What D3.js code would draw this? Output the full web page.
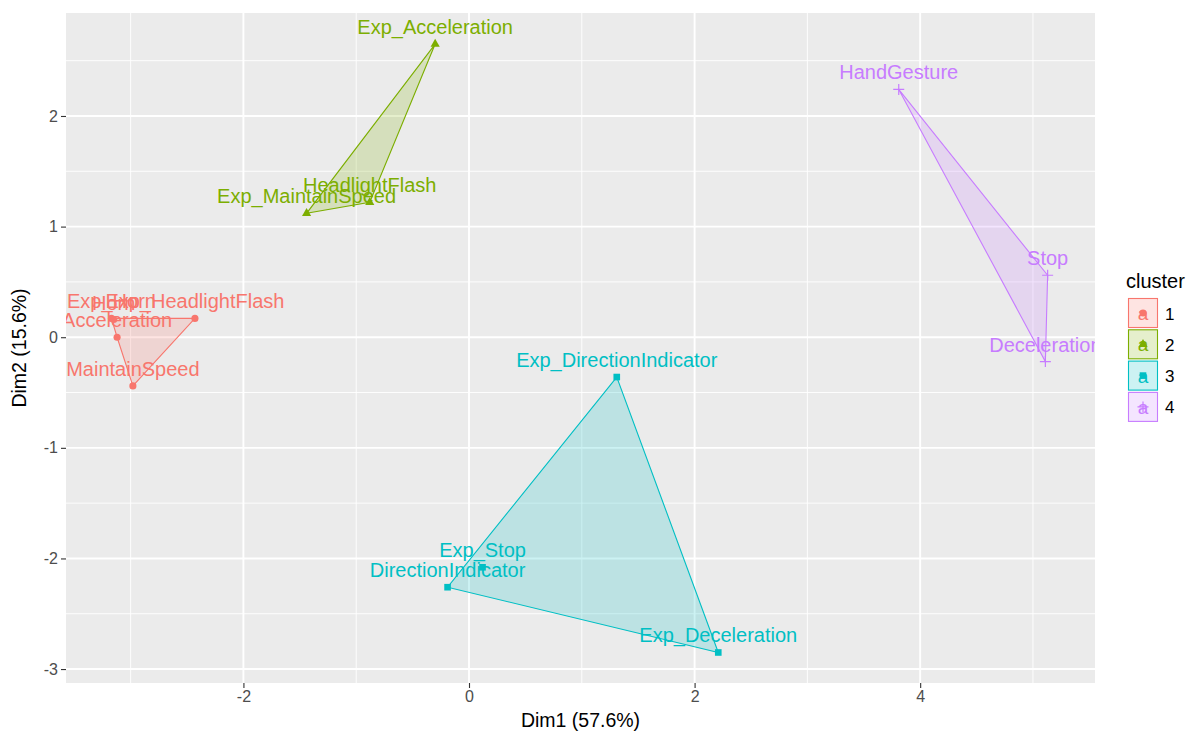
<!DOCTYPE html>
<html lang="en">
<head>
<meta charset="utf-8">
<title>Cluster plot</title>
<script src="https://d3js.org/d3.v7.min.js"></script>
<style>
  body { margin: 0; background: #fff; }
  text { font-family: "Liberation Sans", Arial, sans-serif; }
</style>
</head>
<body>
<script>

// variables and their coordinates on the first two dimensions
var labels = ["Exp_Horn", "Horn", "Exp_HeadlightFlash", "Acceleration", "MaintainSpeed",
              "Exp_Acceleration", "HeadlightFlash", "Exp_MaintainSpeed",
              "Exp_DirectionIndicator", "Exp_Stop", "DirectionIndicator", "Exp_Deceleration",
              "HandGesture", "Stop", "Deceleration"];
var dim1 = [-3.17, -3.15, -2.43, -3.12, -2.98,
            -0.30, -0.88, -1.44,
             1.31,  0.12, -0.19,  2.21,
             3.81,  5.13,  5.11];
var dim2 = [ 0.17,  0.16,  0.17,  0.00, -0.44,
             2.65,  1.22,  1.12,
            -0.36, -2.08, -2.26, -2.85,
             2.24,  0.56, -0.22];
var cluster = [1, 1, 1, 1, 1, 2, 2, 2, 3, 3, 3, 3, 4, 4, 4];

var clusters = [1, 2, 3, 4];
var xTicks = [-2, 0, 2, 4];
var yTicks = [-3, -2, -1, 0, 1, 2];
var xTitle = "Dim1 (57.6%)",
    yTitle = "Dim2 (15.6%)",
    legendTitle = "cluster";

var width = 1197,
    height = 738;
var panel = {left: 66, right: 1095, top: 13, bottom: 683};

var x = d3.scaleLinear().domain([-3.573, 5.55]).range([panel.left, panel.right]);
var y = d3.scaleLinear().domain([-3.126, 2.931]).range([panel.bottom, panel.top]);

var color = d3.scaleOrdinal()
    .domain(clusters)
    .range(["#F8766D", "#7CAE00", "#00BFC4", "#C77CFF"]);
var shape = d3.scaleOrdinal()
    .domain(clusters)
    .range(["circle", "triangle", "square", "plus"]);

var svg = d3.select("body").append("svg")
    .attr("width", width)
    .attr("height", height);

svg.append("defs").append("clipPath")
    .attr("id", "clip")
  .append("rect")
    .attr("x", panel.left)
    .attr("y", panel.top)
    .attr("width", panel.right - panel.left)
    .attr("height", panel.bottom - panel.top);

// panel background + grid
svg.append("rect")
    .attr("x", panel.left)
    .attr("y", panel.top)
    .attr("width", panel.right - panel.left)
    .attr("height", panel.bottom - panel.top)
    .attr("fill", "#EBEBEB");

var grid = svg.append("g");
var xMinor = d3.range(-3, 6, 2), yMinor = d3.range(-2.5, 3, 1);
grid.selectAll(".xmin").data(xMinor).enter().append("line")
    .attr("x1", x).attr("x2", x)
    .attr("y1", panel.top).attr("y2", panel.bottom)
    .attr("stroke", "#fff").attr("stroke-width", 0.9);
grid.selectAll(".ymin").data(yMinor).enter().append("line")
    .attr("y1", y).attr("y2", y)
    .attr("x1", panel.left).attr("x2", panel.right)
    .attr("stroke", "#fff").attr("stroke-width", 0.9);
grid.selectAll(".xmaj").data(xTicks).enter().append("line")
    .attr("x1", x).attr("x2", x)
    .attr("y1", panel.top).attr("y2", panel.bottom)
    .attr("stroke", "#fff").attr("stroke-width", 1.9);
grid.selectAll(".ymaj").data(yTicks).enter().append("line")
    .attr("y1", y).attr("y2", y)
    .attr("x1", panel.left).attr("x2", panel.right)
    .attr("stroke", "#fff").attr("stroke-width", 1.9);

var pts = labels.map(function(d, i) {
  return {name: d, x: dim1[i], y: dim2[i], cluster: cluster[i]};
});

var plot = svg.append("g").attr("clip-path", "url(#clip)");

// convex hulls
clusters.forEach(function(c) {
  var hull = d3.polygonHull(pts.filter(function(p) { return p.cluster === c; })
      .map(function(p) { return [x(p.x), y(p.y)]; }));
  plot.append("path")
      .attr("d", "M" + hull.join("L") + "Z")
      .attr("fill", color(c))
      .attr("fill-opacity", 0.2)
      .attr("stroke", color(c))
      .attr("stroke-width", 1.1);
});

function drawShape(g, s, c) {
  if (s === "plus") {
    g.append("path")
        .attr("d", "M-5.5,0H5.5M0,-5.5V5.5")
        .attr("stroke", c)
        .attr("stroke-width", 1.2)
        .attr("fill", "none");
  } else {
    var sym = {circle: d3.symbolCircle, triangle: d3.symbolTriangle, square: d3.symbolSquare}[s];
    var size = {circle: 40, triangle: 36, square: 44}[s];
    g.append("path")
        .attr("d", d3.symbol().type(sym).size(size)())
        .attr("fill", c);
  }
}

plot.selectAll(".pt").data(pts).enter().append("g")
    .attr("transform", function(d) { return "translate(" + x(d.x) + "," + y(d.y) + ")"; })
    .each(function(d) { drawShape(d3.select(this), shape(d.cluster), color(d.cluster)); });

plot.selectAll(".lbl").data(pts).enter().append("text")
    .attr("x", function(d) { return x(d.x); })
    .attr("y", function(d) { return y(d.y) - 10; })
    .attr("text-anchor", "middle")
    .attr("font-size", 20)
    .attr("fill", function(d) { return color(d.cluster); })
    .text(function(d) { return d.name; });

// axes
var xAxis = svg.append("g")
    .attr("transform", "translate(0," + panel.bottom + ")")
    .call(d3.axisBottom(x).tickValues(xTicks).tickSize(5).tickPadding(3).tickFormat(d3.format("d")));
var yAxis = svg.append("g")
    .attr("transform", "translate(" + panel.left + ",0)")
    .call(d3.axisLeft(y).tickValues(yTicks).tickSize(5).tickPadding(3).tickFormat(d3.format("d")));
[xAxis, yAxis].forEach(function(a) {
  a.select(".domain").remove();
  a.selectAll(".tick line").attr("stroke", "#333").attr("stroke-width", 1.1);
  a.selectAll(".tick text")
      .attr("fill", "#4D4D4D")
      .attr("font-size", 16)
      .attr("font-family", "'Liberation Sans', Arial, sans-serif");
});
xAxis.selectAll(".tick text").text(function(d) { return d < 0 ? "-" + Math.abs(d) : d; });
yAxis.selectAll(".tick text").text(function(d) { return d < 0 ? "-" + Math.abs(d) : d; });

svg.append("text")
    .attr("x", (panel.left + panel.right) / 2)
    .attr("y", 727)
    .attr("text-anchor", "middle")
    .attr("font-size", 19.5)
    .text(xTitle);

svg.append("text")
    .attr("transform", "translate(26," + (panel.top + panel.bottom) / 2 + ") rotate(-90)")
    .attr("text-anchor", "middle")
    .attr("font-size", 19.5)
    .text(yTitle);

// legend
var legend = svg.append("g").attr("transform", "translate(1126,0)");
legend.append("text")
    .attr("x", 0)
    .attr("y", 288)
    .attr("font-size", 20)
    .text(legendTitle);

var key = legend.selectAll(".key").data(clusters).enter().append("g")
    .attr("transform", function(d, i) { return "translate(2," + (298 + i * 31.3) + ")"; });
key.append("rect")
    .attr("x", 0.5).attr("y", 0.5)
    .attr("width", 29).attr("height", 29)
    .attr("fill", "#fff");
key.append("rect")
    .attr("x", 0.5).attr("y", 0.5)
    .attr("width", 29).attr("height", 29)
    .attr("fill", function(d) { return color(d); })
    .attr("fill-opacity", 0.2)
    .attr("stroke", function(d) { return color(d); })
    .attr("stroke-width", 1.1);
key.append("text")
    .attr("x", 15).attr("y", 22)
    .attr("text-anchor", "middle")
    .attr("font-size", 19)
    .attr("fill", function(d) { return color(d); })
    .text("a");
key.append("g")
    .attr("transform", "translate(15,15)")
    .each(function(d) { drawShape(d3.select(this), shape(d), color(d)); });
key.append("text")
    .attr("x", 37).attr("y", 21.5)
    .attr("font-size", 17)
    .attr("fill", "#000")
    .text(function(d) { return d; });

</script>
</body>
</html>
